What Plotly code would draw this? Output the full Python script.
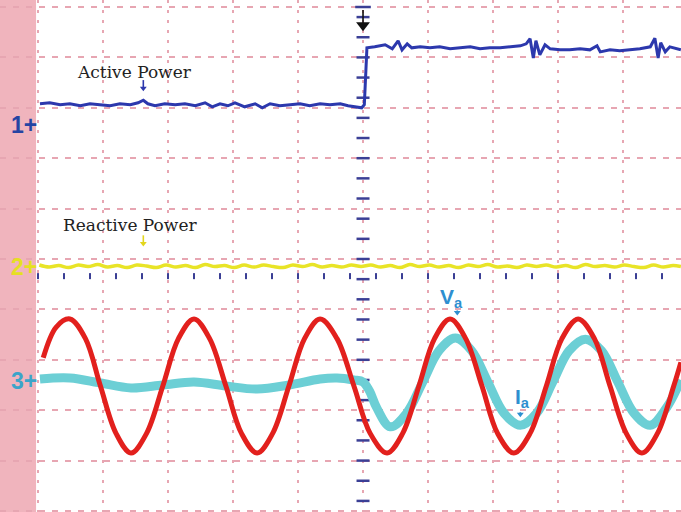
import plotly.graph_objects as go

# Oscilloscope capture, all values in screen divisions.
# Horizontal: 10 divisions, trigger at t = 5 div. Vertical: 0 = screen centre.

# Channel 1 - active power
p_t = [0.03, 0.18, 0.34, 0.49, 0.65, 0.80, 0.95, 1.11, 1.26, 1.42, 1.54, 1.62, 1.69, 1.80,
       1.95, 2.11, 2.26, 2.42, 2.57, 2.68, 2.80, 2.92, 3.03, 3.18, 3.34, 3.45, 3.57, 3.72,
       3.88, 4.03, 4.18, 4.34, 4.49, 4.65, 4.77, 4.91, 4.98, 5.02, 5.05, 5.06, 5.18, 5.34,
       5.45, 5.54, 5.60, 5.68, 5.75, 5.88, 6.03, 6.18, 6.34, 6.49, 6.65, 6.80, 6.95, 7.11,
       7.26, 7.42, 7.51, 7.57, 7.62, 7.66, 7.72, 7.80, 7.88, 8.03, 8.18, 8.34, 8.49, 8.60,
       8.65, 8.80, 8.95, 9.11, 9.26, 9.42, 9.49, 9.54, 9.58, 9.65, 9.72, 9.89]
p_v = [3.08, 3.10, 3.06, 3.08, 3.04, 3.08, 3.06, 3.04, 3.08, 3.06, 3.10, 3.15, 3.08, 3.04,
       3.08, 3.06, 3.08, 3.04, 3.10, 3.02, 3.08, 3.04, 3.10, 3.02, 3.08, 3.00, 3.08, 3.04,
       3.06, 3.08, 3.04, 3.08, 3.06, 3.08, 3.04, 3.02, 3.00, 3.06, 3.74, 4.19, 4.21, 4.25,
       4.17, 4.33, 4.15, 4.27, 4.19, 4.21, 4.19, 4.21, 4.17, 4.19, 4.21, 4.17, 4.19, 4.19,
       4.21, 4.23, 4.27, 4.37, 3.99, 4.33, 4.05, 4.25, 4.17, 4.15, 4.15, 4.17, 4.15, 4.23,
       4.11, 4.15, 4.13, 4.15, 4.17, 4.21, 4.38, 3.99, 4.29, 4.11, 4.21, 4.15]

# Channel 2 - reactive power
q_t = [0.02, 0.17, 0.32, 0.47, 0.62, 0.77, 0.92, 1.07, 1.22, 1.37, 1.52, 1.67, 1.82, 1.97,
       2.12, 2.27, 2.42, 2.57, 2.72, 2.87, 3.02, 3.17, 3.32, 3.47, 3.62, 3.77, 3.92, 4.07,
       4.22, 4.37, 4.52, 4.67, 4.82, 4.97, 5.12, 5.27, 5.42, 5.57, 5.72, 5.87, 6.02, 6.17,
       6.32, 6.47, 6.62, 6.77, 6.92, 7.07, 7.22, 7.37, 7.52, 7.67, 7.82, 7.97, 8.12, 8.27,
       8.42, 8.57, 8.72, 8.87, 9.02, 9.17, 9.32, 9.47, 9.62, 9.77, 9.89]
q_v = [-0.12, -0.16, -0.13, -0.17, -0.12, -0.15, -0.11, -0.16, -0.13, -0.17,
       -0.12, -0.14, -0.17, -0.12, -0.16, -0.13, -0.17, -0.11, -0.15, -0.13,
       -0.17, -0.12, -0.16, -0.12, -0.15, -0.17, -0.12, -0.15, -0.11, -0.16,
       -0.13, -0.16, -0.12, -0.15, -0.12, -0.16, -0.13, -0.17, -0.11, -0.15,
       -0.12, -0.16, -0.13, -0.17, -0.12, -0.15, -0.11, -0.16, -0.14, -0.17,
       -0.12, -0.15, -0.12, -0.16, -0.13, -0.17, -0.11, -0.15, -0.13, -0.16,
       -0.12, -0.15, -0.17, -0.12, -0.16, -0.13, -0.15]

# Channel 3 - phase voltage Va
va_t = [0.08, 0.28, 0.49, 0.73, 0.96, 1.20, 1.43, 1.67, 1.92, 2.16, 2.40, 2.64, 2.89, 3.13,
        3.37, 3.61, 3.86, 4.10, 4.34, 4.60, 4.86, 5.11, 5.37, 5.61, 5.86, 6.10, 6.34, 6.58,
        6.83, 7.07, 7.32, 7.57, 7.82, 8.06, 8.31, 8.56, 8.80, 9.05, 9.29, 9.53, 9.78, 9.89]
va_v = [-1.96, -1.35, -1.19, -1.58, -2.52, -3.46, -3.85, -3.46, -2.52, -1.58, -1.19, -1.58,
        -2.52, -3.46, -3.85, -3.46, -2.52, -1.58, -1.19, -1.58, -2.52, -3.46, -3.85, -3.46,
        -2.52, -1.58, -1.19, -1.58, -2.52, -3.46, -3.85, -3.46, -2.52, -1.58, -1.19, -1.58,
        -2.52, -3.46, -3.85, -3.46, -2.52, -2.05]

# Channel 3 - phase current Ia
ia_t = [0.03, 0.49, 0.96, 1.43, 1.92, 2.40, 2.89, 3.37, 3.86, 4.34, 4.60, 4.86, 5.00,
        5.10, 5.21, 5.42, 5.67, 5.92, 6.17, 6.42, 6.67, 6.92, 7.17, 7.42, 7.67, 7.92,
        8.17, 8.42, 8.67, 8.92, 9.17, 9.42, 9.67, 9.89]
ia_v = [-2.38, -2.36, -2.46, -2.56, -2.50, -2.44, -2.52, -2.58, -2.50, -2.38, -2.36, -2.40,
        -2.44, -2.62, -2.95, -3.33, -3.06, -2.44, -1.82, -1.57, -1.82, -2.44, -3.06, -3.30,
        -3.06, -2.44, -1.82, -1.59, -1.82, -2.44, -3.06, -3.30, -2.95, -2.40]

# Visible screen window (divisions)
X0, X1 = -0.585, 9.892
Y0, Y1 = -5.02, 5.139
TRIG = 5.0

NAVY = "#2c38ad"
YELLOW = "#e8e427"
RED = "#e2201d"
CYAN = "#6ccfd5"
GRID = "#e7a6b2"
LABEL_BLUE = "#2e8fd0"

fig = go.Figure()

fig.add_trace(go.Scatter(x=ia_t, y=ia_v, mode="lines",
                         line=dict(color=CYAN, width=9, shape="spline", smoothing=1.0)))
fig.add_trace(go.Scatter(x=va_t, y=va_v, mode="lines",
                         line=dict(color=RED, width=5, shape="spline", smoothing=1.0)))
fig.add_trace(go.Scatter(x=q_t, y=q_v, mode="lines",
                         line=dict(color=YELLOW, width=3.5, shape="spline", smoothing=1.0)))
fig.add_trace(go.Scatter(x=p_t, y=p_v, mode="lines",
                         line=dict(color=NAVY, width=3)))


def pointer(x, y, color, stem, size):
    """Small downward pointer whose tip sits at (x, y)."""
    fig.add_trace(go.Scatter(x=[x, x], y=[y + stem, y + 0.08], mode="lines",
                             line=dict(color=color, width=1.6), hoverinfo="skip"))
    fig.add_trace(go.Scatter(x=[x], y=[y + 0.06], mode="markers", hoverinfo="skip",
                             marker=dict(symbol="triangle-down", size=size, color=color)))


pointer(1.62, 3.33, NAVY, 0.22, 6)
pointer(1.62, 0.25, "#e3d61c", 0.22, 6)
pointer(6.45, -1.12, LABEL_BLUE, 0.10, 6)
pointer(7.42, -3.14, LABEL_BLUE, 0.10, 6)
pointer(TRIG, 4.58, "#111111", 0.36, 12)

shapes = []
# left pink bezel
shapes.append(dict(type="rect", xref="x", yref="paper", x0=X0, x1=-0.03, y0=0, y1=1,
                   fillcolor="#f0b4bd", line=dict(width=0), layer="between"))
# minor ticks on the vertical centre axis
k = -12
while k <= 12:
    yv = 0.4 * k
    if Y0 < yv < Y1:
        shapes.append(dict(type="line", x0=TRIG - 0.1, x1=TRIG + 0.1, y0=yv, y1=yv,
                           line=dict(color="#3b3f95", width=2.5), layer="between"))
    k += 1
shapes.append(dict(type="line", x0=TRIG - 0.12, x1=TRIG + 0.12, y0=5.0, y1=5.0,
                   line=dict(color="#3b3f95", width=2.5), layer="above"))
# minor ticks on the horizontal axis row
k = 0
while 0.4 * k < X1:
    xv = 0.4 * k
    shapes.append(dict(type="line", x0=xv, x1=xv, y0=-0.28, y1=-0.40,
                       line=dict(color="#3b3f95", width=2), layer="between"))
    k += 1

annotations = []


def txt(x, y, s, size, color, fam="Liberation Sans"):
    return dict(x=x, y=y, text=s, showarrow=False, xanchor="center", yanchor="middle",
                font=dict(family=fam, size=size, color=color))


annotations.append(txt(1.48, 3.71, "Active Power", 17, "#222222", "DejaVu Serif"))
annotations.append(txt(1.42, 0.67, "Reactive Power", 17, "#222222", "DejaVu Serif"))
annotations.append(txt(-0.22, 2.66, "<b>1+</b>", 23, "#2544a3"))
annotations.append(txt(-0.22, -0.16, "<b>2+</b>", 23, "#e6df22"))
annotations.append(txt(-0.22, -2.42, "<b>3+</b>", 23, "#3ba4c9"))
annotations.append(txt(6.36, -0.77, "<b>V<sub>a</sub></b>", 21, LABEL_BLUE))
annotations.append(txt(7.45, -2.75, "<b>I<sub>a</sub></b>", 21, LABEL_BLUE))

fig.update_layout(
    width=681, height=512,
    margin=dict(l=0, r=0, t=0, b=0),
    paper_bgcolor="white", plot_bgcolor="white",
    showlegend=False,
    shapes=shapes, annotations=annotations,
    xaxis=dict(range=[X0, X1], tick0=0, dtick=1, showgrid=True, gridcolor=GRID,
               gridwidth=1.5, griddash="3px,7px", zeroline=False, showticklabels=False,
               ticks="", showline=False, fixedrange=True),
    yaxis=dict(range=[Y0, Y1], tick0=0, dtick=1, showgrid=True, gridcolor=GRID,
               gridwidth=1.5, griddash="6px,7px", zeroline=False, showticklabels=False,
               ticks="", showline=False, fixedrange=True),
)

fig.write_html("out.html")
